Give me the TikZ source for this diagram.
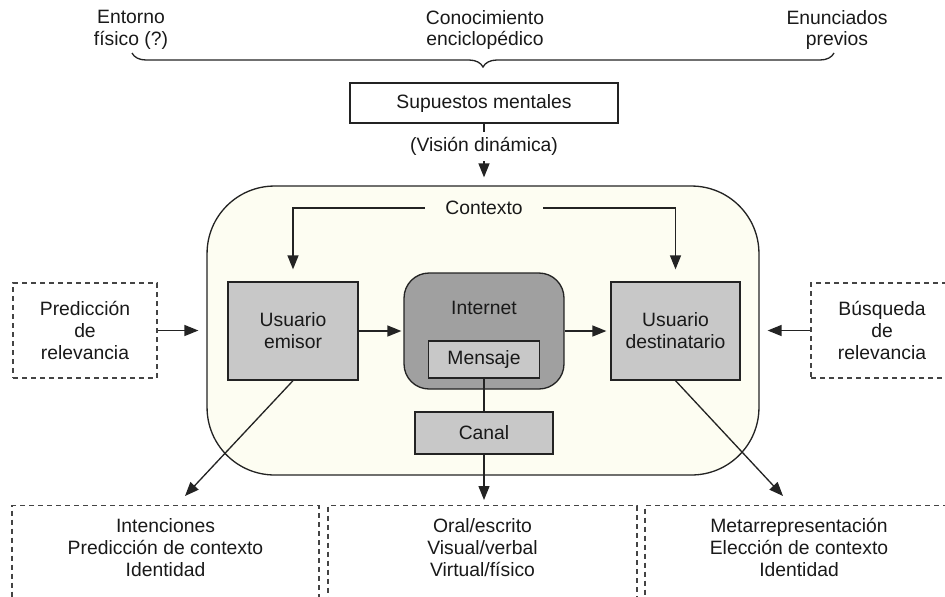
\documentclass[tikz,border=0pt]{standalone}
\usepackage{fontspec}
\setmainfont{Liberation Sans}
\usepackage{xcolor}
\usetikzlibrary{arrows.meta,positioning,decorations.pathreplacing}
\definecolor{fondo}{RGB}{253,253,242}
\definecolor{grisclaro}{RGB}{200,200,200}
\definecolor{grisoscuro}{RGB}{160,160,160}
\definecolor{trazo}{RGB}{35,35,35}
\tikzset{
	caja/.style={draw=trazo,line width=0.75pt,fill=grisclaro,align=center,inner sep=2pt},
	cajablanca/.style={draw=trazo,line width=0.75pt,fill=white,align=center},
	cajapunt/.style={draw=trazo!85,line width=0.65pt,dash pattern=on 0.1cm off 0.08cm,align=center},
	flecha/.style={draw=trazo,line width=0.75pt,-{Triangle[length=0.28cm,width=0.22cm]}},
	linea/.style={draw=trazo,line width=0.75pt},
	texto/.style={align=center,inner sep=1pt}
}

\begin{document}
\begin{tikzpicture}[x=0.02cm,y=-0.02cm,font=\fontsize{11}{12.5}\selectfont,text=black!90]
	\useasboundingbox (0,0) rectangle (945,596);
	\clip (0,0) rectangle (945,596);
	
	\node[texto] (entorno) at (131,30) {Entorno\\físico (?)};
	\node[texto] (conoc) at (485,30) {Conocimiento\\enciclopédico};
	\node[texto] (enunc) at (837,30) {Enunciados\\previos};
	\coordinate (llaveA) at (132,53);
	\coordinate (llaveB) at (834,53);
	\draw[linea,decorate,decoration={brace,mirror,amplitude=0.28cm}] (llaveA) -- (llaveB);
	
	\node[cajablanca,minimum width=5.36cm,minimum height=0.8cm] (supuestos) at (484,103) {Supuestos mentales};
	\node[draw=trazo,line width=0.75pt,fill=fondo,rounded corners=1.35cm,minimum width=11.04cm,minimum height=5.78cm] (ctxbox) at (483,330.5) {};
	\draw[flecha,shorten >=0.16cm] (supuestos.south) -- node[pos=0.37,fill=white,inner sep=3pt]{(Visión dinámica)} (supuestos.south |- ctxbox.north);
	
	\node[texto,inner xsep=0.4cm] (contexto) at (484,208) {Contexto};
	\node[caja,minimum width=2.6cm,minimum height=1.96cm] (emisor) at (293,331) {Usuario\\emisor};
	\node[draw=trazo,line width=0.75pt,fill=grisoscuro,rounded corners=0.5cm,minimum width=3.2cm,minimum height=2.32cm] (internet) at (484,331) {};
	\node[texto] (internettxt) at (484,308) {Internet};
	\node[caja,minimum width=2.22cm,minimum height=0.74cm] (mensaje) at (484,359.5) {Mensaje};
	\node[caja,minimum width=2.58cm,minimum height=1.96cm] (destin) at (675.5,331) {Usuario\\destinatario};
	\node[caja,minimum width=2.76cm,minimum height=0.84cm] (canal) at (484,433) {Canal};
	
	\draw[flecha,shorten >=0.24cm] (contexto.west) -| (emisor.north);
	\draw[flecha,shorten >=0.24cm] (contexto.east) -| (destin.north);
	\draw[flecha,shorten >=0.04cm] (emisor.east) -- (internet.west);
	\draw[flecha,shorten >=0.08cm] (internet.east) -- (destin.west);
	\draw[linea] (mensaje.south) -- (mensaje.south |- canal.north);
	
	\node[cajapunt,minimum width=2.88cm,minimum height=1.9cm] (predic) at (85,330.5) {Predicción\\de\\relevancia};
	\node[cajapunt,minimum width=2.84cm,minimum height=1.9cm] (busq) at (882,330.5) {Búsqueda\\de\\relevancia};
	\draw[flecha,shorten >=0.16cm] (predic.east) -- (predic.east -| ctxbox.west);
	\draw[flecha,shorten >=0.16cm] (busq.west) -- (busq.west -| ctxbox.east);
	
	\node[cajapunt,anchor=north,minimum width=6.14cm,minimum height=2.2cm] (intenc) at (165.5,505) {};
	\node[cajapunt,anchor=north,minimum width=6.18cm,minimum height=2.2cm] (medio) at (482.5,505) {};
	\node[cajapunt,anchor=north,minimum width=6.16cm,minimum height=2.2cm] (metarr) at (799,505) {};
	\node[texto,below=0.22cm of intenc.north] (intenctxt) {Intenciones\\Predicción de contexto\\Identidad};
	\node[texto,below=0.22cm of medio.north] (mediotxt) {Oral/escrito\\Visual/verbal\\Virtual/físico};
	\node[texto,below=0.22cm of metarr.north] (metarrtxt) {Metarrepresentación\\Elección de contexto\\Identidad};
	
	\coordinate (puntaL) at (185,496);
	\coordinate (puntaR) at (783,496);
	\draw[flecha] (emisor.south) -- (puntaL);
	\draw[flecha] (destin.south) -- (puntaR);
	\draw[flecha,shorten >=0.1cm] (canal.south) -- (canal.south |- medio.north);
\end{tikzpicture}
\end{document}
